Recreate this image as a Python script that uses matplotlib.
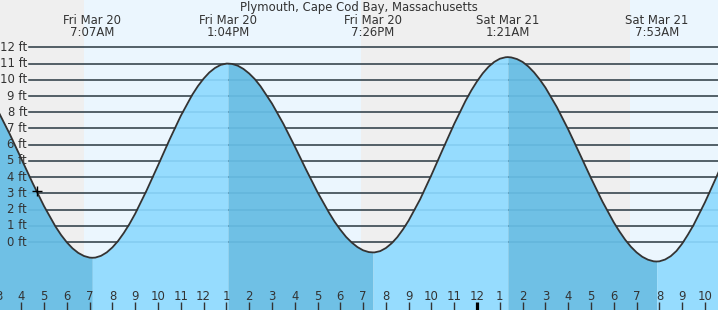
import matplotlib.pyplot as plt
import matplotlib.transforms as mtransforms
import numpy as np

# tide heights (ft), hours counted from midnight Fri Mar 20
tide_hours = [3.0, 3.5, 4.0, 4.5, 5.0, 5.5, 5.75, 6.0, 6.25, 6.5, 6.75, 7.0, 7.117,
              7.25, 7.5, 7.75, 8.0, 8.25, 8.5, 8.75, 9.0, 9.5, 10.0, 10.5, 11.0, 11.5,
              11.75, 12.0, 12.25, 12.5, 12.75, 13.0, 13.067,
              13.25, 13.5, 13.75, 14.0, 14.25, 14.5, 15.0, 15.5, 16.0, 16.5, 17.0, 17.5,
              17.75, 18.0, 18.25, 18.5, 18.75, 19.0, 19.25, 19.433,
              19.5, 19.75, 20.0, 20.25, 20.5, 20.75, 21.0, 21.5, 22.0, 22.5, 23.0, 23.5,
              23.75, 24.0, 24.25, 24.5, 24.75, 25.0, 25.25, 25.35,
              25.5, 25.75, 26.0, 26.25, 26.5, 26.75, 27.0, 27.5, 28.0, 28.5, 29.0, 29.5,
              30.0, 30.25, 30.5, 30.75, 31.0, 31.25, 31.5, 31.75, 31.883,
              32.0, 32.25, 32.5, 32.75, 33.0, 33.25, 33.5, 34.0, 34.5, 35.0]
tide_ft = [8.03, 6.64, 5.14, 3.63, 2.21, 0.96, 0.43, -0.02, -0.39, -0.67, -0.86, -0.96, -0.97,
           -0.96, -0.85, -0.64, -0.33, 0.07, 0.56, 1.12, 1.75, 3.18, 4.72, 6.29, 7.78, 9.07,
           9.61, 10.07, 10.45, 10.73, 10.92, 11.0, 11.0,
           10.98, 10.87, 10.67, 10.39, 10.04, 9.60, 8.54, 7.29, 5.90, 4.46, 3.07, 1.82,
           1.25, 0.76, 0.32, -0.03, -0.31, -0.51, -0.62, -0.64,
           -0.64, -0.56, -0.37, -0.08, 0.30, 0.78, 1.33, 2.63, 4.14, 5.73, 7.29, 8.72,
           9.35, 9.91, 10.40, 10.80, 11.10, 11.30, 11.39, 11.4,
           11.38, 11.28, 11.10, 10.82, 10.46, 10.02, 9.52, 8.32, 6.94, 5.45, 3.94, 2.50,
           1.21, 0.65, 0.14, -0.29, -0.64, -0.91, -1.09, -1.19, -1.2,
           -1.19, -1.08, -0.87, -0.55, -0.10, 0.45, 1.05, 2.45, 4.0, 5.6]

# high / low events
extreme_hours = [7.117, 13.067, 19.433, 25.35, 31.883]
extreme_kind = ["L", "H", "L", "H", "L"]
extreme_dates = ["Fri Mar 20", "Fri Mar 20", "Fri Mar 20", "Sat Mar 21", "Sat Mar 21"]
extreme_times = ["7:07AM", "1:04PM", "7:26PM", "1:21AM", "7:53AM"]

# sunrise / sunset
sun_hours = [6.75, 18.9, 30.71]

# current time marker
now_hour = 4.70
now_ft = 3.16

ft_levels = list(range(0, 13))
hour_ticks = list(range(3, 35))
hour_labels = ["3", "4", "5", "6", "7", "8", "9", "10", "11", "12", "1", "2",
               "3", "4", "5", "6", "7", "8", "9", "10", "11", "12", "1", "2",
               "3", "4", "5", "6", "7", "8", "9", "10"]

W, H = 718, 310
NIGHT = "#efefef"
DAY = "#ebf6fe"
RISING = "#96dcfe"
FALLING = "#6fc0e5"
INK = "#333333"
FS = 8.4


def draw_background(ax, x0, x1):
    edges = [x0] + sun_hours + [x1]
    for i in range(len(edges) - 1):
        color = NIGHT if i % 2 == 0 else DAY
        ax.axvspan(edges[i], edges[i + 1], color=color, lw=0, zorder=0)


def draw_water(ax, t, h, bottom):
    bounds = [t[0]] + extreme_hours + [t[-1]]
    kinds = extreme_kind + ["H"]
    for i in range(len(bounds) - 1):
        color = FALLING if kinds[i] == "L" else RISING
        mask = (t >= bounds[i]) & (t <= bounds[i + 1])
        ax.fill_between(t, h, bottom, where=mask, color=color, lw=0, zorder=2)


def make_tide_chart():
    t = np.array(tide_hours)
    h = np.array(tide_ft)

    fig = plt.figure(figsize=(W / 100, H / 100), dpi=100)
    ax = fig.add_axes([0, 0, 1, 1])
    x0, x1 = 3.067, 34.572
    y0, y1 = -4.19, 14.92
    ax.set_xlim(x0, x1)
    ax.set_ylim(y0, y1)
    ax.axis("off")

    draw_background(ax, x0, x1)

    # grid lines: dark above water, faint below
    ytrans = mtransforms.blended_transform_factory(ax.transAxes, ax.transData)
    for lvl in ft_levels:
        ax.axhline(lvl, xmin=29 / W, xmax=1, color=INK, lw=1.1, zorder=1)
        ax.axhline(lvl, xmin=29 / W, xmax=1, color="#2a80b0", lw=1.1, alpha=0.18, zorder=3)
        ax.text(27 / W, lvl, "%d ft" % lvl, transform=ytrans,
                ha="right", va="center", fontsize=FS, color=INK, zorder=5)

    draw_water(ax, t, h, y0)
    ax.plot(t, h, color=INK, lw=1.3, zorder=4)

    ax.plot([now_hour], [now_ft], marker="+", color="black", markersize=7, mew=1, zorder=5)

    trans = mtransforms.blended_transform_factory(ax.transData, ax.transAxes)
    for hr, lab in zip(hour_ticks, hour_labels):
        thick = hr == 24  # midnight
        ax.vlines(hr, 0, 8 / H, transform=trans, color="black" if thick else INK,
                  lw=2.3 if thick else 1.0, zorder=5)
        ax.text(hr, 1 - 296 / H, lab, transform=trans, ha="center", va="center",
                fontsize=FS, color=INK, zorder=5)

    for hr, d, tm in zip(extreme_hours, extreme_dates, extreme_times):
        ax.text(hr, 1 - 20 / H, d, transform=trans, ha="center", va="center", fontsize=FS, color=INK, zorder=5)
        ax.text(hr, 1 - 32 / H, tm, transform=trans, ha="center", va="center", fontsize=FS, color=INK, zorder=5)

    ax.text(0.5, 1 - 8 / H, "Plymouth, Cape Cod Bay, Massachusetts", transform=ax.transAxes,
            ha="center", va="center", fontsize=FS, color=INK, zorder=5)

    fig.savefig("out.png", dpi=100)


if __name__ == "__main__":
    make_tide_chart()
